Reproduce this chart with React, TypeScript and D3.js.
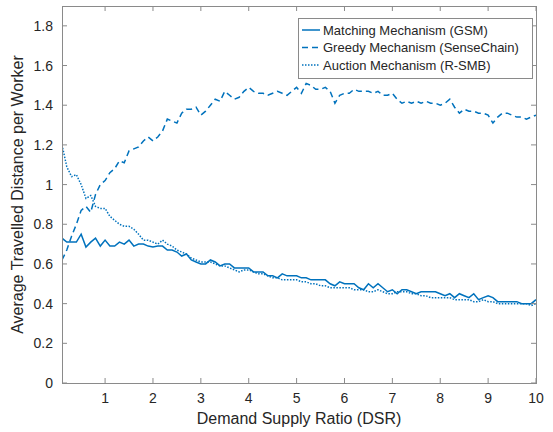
import React from "react";
import * as d3 from "d3";

const xs: number[] = d3.range(1, 101).map((i) => i / 10);

const matching: number[] = [
  0.73, 0.71, 0.71, 0.71, 0.75, 0.685, 0.71, 0.73, 0.69, 0.72,
  0.69, 0.69, 0.71, 0.70, 0.72, 0.69, 0.70, 0.70, 0.69, 0.685,
  0.69, 0.69, 0.67, 0.67, 0.66, 0.64, 0.65, 0.62, 0.61, 0.60,
  0.60, 0.62, 0.61, 0.59, 0.60, 0.60, 0.58, 0.58, 0.58, 0.58,
  0.56, 0.56, 0.56, 0.54, 0.54, 0.53, 0.55, 0.54, 0.54, 0.54,
  0.53, 0.53, 0.52, 0.52, 0.52, 0.52, 0.50, 0.49, 0.51, 0.50,
  0.50, 0.50, 0.48, 0.47, 0.50, 0.48, 0.50, 0.48, 0.46, 0.47,
  0.45, 0.47, 0.47, 0.46, 0.45, 0.46, 0.46, 0.46, 0.46, 0.45,
  0.44, 0.45, 0.43, 0.45, 0.44, 0.43, 0.45, 0.42, 0.43, 0.44,
  0.43, 0.41, 0.41, 0.41, 0.41, 0.41, 0.40, 0.40, 0.40, 0.42,
];

const greedy: number[] = [
  0.62, 0.67, 0.74, 0.80, 0.87, 0.89, 0.86, 0.95, 1.00, 1.02,
  1.06, 1.08, 1.12, 1.11, 1.17, 1.18, 1.19, 1.22, 1.24, 1.22,
  1.24, 1.27, 1.33, 1.32, 1.31, 1.36, 1.38, 1.38, 1.39, 1.35,
  1.37, 1.40, 1.43, 1.42, 1.47, 1.45, 1.43, 1.44, 1.47, 1.49,
  1.47, 1.46, 1.46, 1.45, 1.46, 1.47, 1.46, 1.45, 1.47, 1.49,
  1.46, 1.51, 1.50, 1.48, 1.48, 1.49, 1.47, 1.41, 1.45, 1.46,
  1.46, 1.48, 1.47, 1.47, 1.47, 1.46, 1.47, 1.45, 1.45, 1.46,
  1.43, 1.41, 1.42, 1.41, 1.42, 1.41, 1.42, 1.41, 1.41, 1.40,
  1.41, 1.43, 1.39, 1.36, 1.38, 1.37, 1.37, 1.36, 1.36, 1.35,
  1.31, 1.34, 1.36, 1.36, 1.35, 1.34, 1.34, 1.33, 1.34, 1.35,
];

const auction: number[] = [
  1.20, 1.09, 1.04, 1.05, 1.00, 0.93, 0.945, 0.89, 0.88, 0.88,
  0.84, 0.82, 0.80, 0.79, 0.79, 0.775, 0.75, 0.72, 0.72, 0.71,
  0.70, 0.72, 0.70, 0.69, 0.67, 0.66, 0.65, 0.63, 0.62, 0.61,
  0.61, 0.61, 0.60, 0.59, 0.59, 0.58, 0.57, 0.56, 0.57, 0.57,
  0.56, 0.55, 0.55, 0.54, 0.53, 0.53, 0.52, 0.52, 0.52, 0.52,
  0.51, 0.51, 0.50, 0.50, 0.49, 0.49, 0.48, 0.48, 0.48, 0.48,
  0.48, 0.47, 0.47, 0.47, 0.46, 0.46, 0.47, 0.46, 0.45, 0.45,
  0.46, 0.46, 0.46, 0.45, 0.45, 0.44, 0.44, 0.43, 0.43, 0.43,
  0.43, 0.43, 0.42, 0.42, 0.42, 0.42, 0.41, 0.41, 0.42, 0.41,
  0.41, 0.40, 0.40, 0.40, 0.40, 0.40, 0.40, 0.40, 0.39, 0.40,
];

const xTicks: number[] = [1, 2, 3, 4, 5, 6, 7, 8, 9, 10];
const yTicks: number[] = [0, 0.2, 0.4, 0.6, 0.8, 1, 1.2, 1.4, 1.6, 1.8];
const seriesNames: string[] = [
  "Matching Mechanism (GSM)",
  "Greedy Mechanism (SenseChain)",
  "Auction Mechanism (R-SMB)",
];
const xLabel = "Demand Supply Ratio (DSR)";
const yLabel = "Average Travelled Distance per Worker";

const W = 553;
const H = 432;
const L = 62;
const R = 536;
const T = 6;
const B = 383;
const COLOR = "#0072BD";
const AXIS = "#8a8a8a";
const TEXT = "#262626";
const FONT = "Liberation Sans, Arial, Helvetica, sans-serif";

export default function App() {
  const x = d3.scaleLinear().domain([0.1, 10]).range([L, R]);
  const y = d3.scaleLinear().domain([0, 1.9]).range([B, T]);
  const line = d3
    .line<number>()
    .x((_, i) => x(xs[i]))
    .y((d) => y(d));

  const series = [
    { name: seriesNames[0], data: matching, dash: undefined as string | undefined },
    { name: seriesNames[1], data: greedy, dash: "6,4" },
    { name: seriesNames[2], data: auction, dash: "1.5,1.5" },
  ];
  const tl = 5;
  const legX = 298;
  const legY = 18;
  const legW = 234;
  const legH = 60;

  return (
    <svg width={W} height={H} style={{ position: "absolute", left: 0, top: 0, background: "#fff" }}>
      <rect x={0} y={0} width={W} height={H} fill="#fff" />
      <defs>
        <clipPath id="plotclip">
          <rect x={L} y={T} width={R - L} height={B - T} />
        </clipPath>
      </defs>
      <g clipPath="url(#plotclip)">
        {series.map((s) => (
          <path
            key={s.name}
            d={line(s.data) || ""}
            fill="none"
            stroke={COLOR}
            strokeWidth={1.5}
            strokeDasharray={s.dash}
          />
        ))}
      </g>
      <rect x={L + 0.5} y={T + 0.5} width={R - L} height={B - T} fill="none" stroke={AXIS} strokeWidth={1} />
      {xTicks.map((t) => (
        <g key={"x" + t}>
          <line x1={x(t)} x2={x(t)} y1={B} y2={B - tl} stroke={AXIS} />
          <line x1={x(t)} x2={x(t)} y1={T} y2={T + tl} stroke={AXIS} />
          <text x={x(t)} y={403} textAnchor="middle" fontFamily={FONT} fontSize={14} fill={TEXT}>
            {t}
          </text>
        </g>
      ))}
      {yTicks.map((t) => (
        <g key={"y" + t}>
          <line x1={L} x2={L + tl} y1={y(t)} y2={y(t)} stroke={AXIS} />
          <line x1={R} x2={R - tl} y1={y(t)} y2={y(t)} stroke={AXIS} />
          <text x={L - 9} y={y(t) + 5} textAnchor="end" fontFamily={FONT} fontSize={14} fill={TEXT}>
            {String(t)}
          </text>
        </g>
      ))}
      <text x={(L + R) / 2} y={424} textAnchor="middle" fontFamily={FONT} fontSize={16} fill={TEXT}>
        {xLabel}
      </text>
      <text
        transform={`translate(23,${(T + B) / 2}) rotate(-90)`}
        textAnchor="middle"
        fontFamily={FONT}
        fontSize={16}
        fill={TEXT}
      >
        {yLabel}
      </text>
      <rect x={legX + 0.5} y={legY + 0.5} width={legW} height={legH} fill="#fff" stroke={AXIS} strokeWidth={1} />
      {series.map((s, i) => {
        const cy = legY + 12 + i * 17.5;
        return (
          <g key={"leg" + i}>
            <line x1={legX + 4} x2={legX + 22} y1={cy} y2={cy} stroke={COLOR} strokeWidth={1.5} strokeDasharray={s.dash} />
            <text x={legX + 25} y={cy + 4.5} fontFamily={FONT} fontSize={13} fill={TEXT}>
              {s.name}
            </text>
          </g>
        );
      })}
    </svg>
  );
}
